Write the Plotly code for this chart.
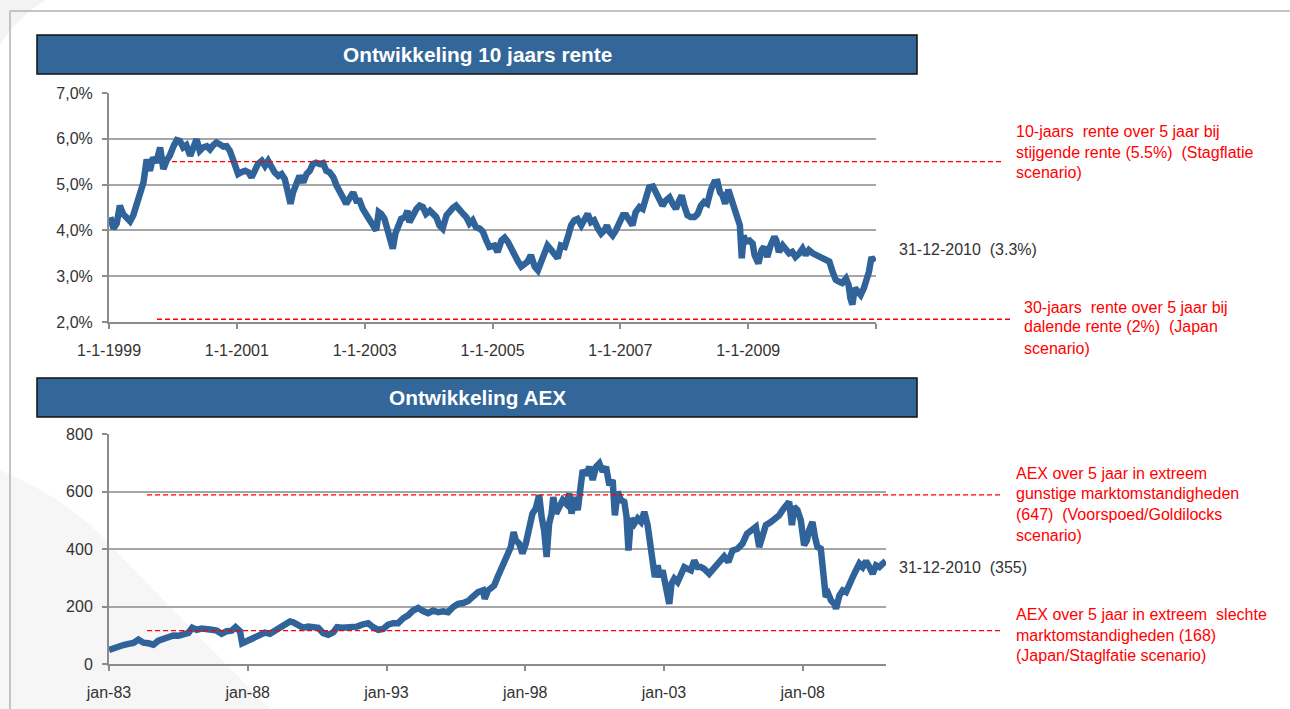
import plotly.graph_objects as go

W, H = 1290, 709

# ---------------- data ----------------
rente_years = [
    1999.02, 1999.07, 1999.12, 1999.17, 1999.22, 1999.28, 1999.33, 1999.38, 1999.43, 1999.48,
    1999.54, 1999.59, 1999.64, 1999.69, 1999.74, 1999.80, 1999.85, 1999.90, 1999.95, 2000.01,
    2000.06, 2000.11, 2000.16, 2000.21, 2000.27, 2000.32, 2000.37, 2000.42, 2000.47, 2000.53,
    2000.58, 2000.63, 2000.68, 2000.73, 2000.79, 2000.84, 2000.89, 2000.94, 2000.99, 2001.02,
    2001.07, 2001.13, 2001.18, 2001.23, 2001.28, 2001.33, 2001.39, 2001.44, 2001.49, 2001.54,
    2001.59, 2001.65, 2001.70, 2001.75, 2001.80, 2001.84, 2001.88, 2001.93, 2001.98, 2002.04,
    2002.09, 2002.14, 2002.19, 2002.24, 2002.30, 2002.35, 2002.40, 2002.45, 2002.51, 2002.56,
    2002.61, 2002.66, 2002.71, 2002.77, 2002.82, 2002.87, 2002.92, 2002.97, 2003.03, 2003.08,
    2003.13, 2003.18, 2003.22, 2003.26, 2003.31, 2003.36, 2003.40, 2003.44, 2003.48, 2003.52,
    2003.57, 2003.63, 2003.67, 2003.70, 2003.76, 2003.81, 2003.86, 2003.91, 2003.96, 2004.02,
    2004.07, 2004.12, 2004.17, 2004.22, 2004.28, 2004.33, 2004.38, 2004.43, 2004.48, 2004.54,
    2004.59, 2004.64, 2004.69, 2004.74, 2004.80, 2004.85, 2004.90, 2004.95,
    2005.03, 2005.08, 2005.14, 2005.19, 2005.24, 2005.29, 2005.34, 2005.40, 2005.45, 2005.50,
    2005.55, 2005.60, 2005.66, 2005.71, 2005.76, 2005.81, 2005.86, 2005.92, 2005.97, 2006.02,
    2006.07, 2006.13, 2006.18, 2006.23, 2006.28, 2006.33, 2006.39, 2006.44, 2006.49, 2006.54,
    2006.59, 2006.65, 2006.70, 2006.75, 2006.79, 2006.83, 2006.88, 2006.93, 2006.98, 2007.04,
    2007.09, 2007.14, 2007.19, 2007.24, 2007.30, 2007.35, 2007.40, 2007.45, 2007.51, 2007.56,
    2007.61, 2007.66, 2007.71, 2007.77, 2007.82, 2007.87, 2007.92, 2007.96, 2008.00, 2008.05,
    2008.10, 2008.16, 2008.21, 2008.26, 2008.31, 2008.36, 2008.42, 2008.47, 2008.52, 2008.56,
    2008.60, 2008.64, 2008.69, 2008.73, 2008.78, 2008.83, 2008.87, 2008.90, 2008.93, 2008.96,
    2009.02, 2009.07, 2009.10, 2009.16, 2009.21, 2009.25, 2009.30, 2009.35, 2009.41, 2009.44,
    2009.48, 2009.54, 2009.59, 2009.64, 2009.69, 2009.74, 2009.80, 2009.85, 2009.90, 2009.95,
    2010.01, 2010.06, 2010.11, 2010.16, 2010.21, 2010.27, 2010.32, 2010.37, 2010.42, 2010.47,
    2010.53, 2010.57, 2010.60, 2010.63, 2010.67, 2010.71, 2010.76, 2010.81, 2010.85, 2010.89,
    2010.93, 2010.97,
]
rente_values = [
    4.29, 4.04, 4.15, 4.54, 4.36, 4.29, 4.20, 4.33, 4.54, 4.83,
    5.05, 5.55, 5.30, 5.59, 5.48, 5.81, 5.34, 5.52, 5.63, 5.84,
    5.97, 5.95, 5.81, 5.86, 5.63, 5.81, 5.99, 5.74, 5.81, 5.84,
    5.77, 5.86, 5.92, 5.88, 5.83, 5.84, 5.74, 5.55, 5.37, 5.23,
    5.27, 5.30, 5.27, 5.16, 5.30, 5.45, 5.52, 5.41, 5.52, 5.37,
    5.27, 5.19, 5.23, 5.12, 4.83, 4.58, 4.83, 4.98, 5.19, 5.05,
    5.23, 5.30, 5.45, 5.48, 5.45, 5.47, 5.30, 5.27, 5.16, 4.98,
    4.87, 4.72, 4.58, 4.76, 4.83, 4.65, 4.65, 4.47, 4.36, 4.22,
    4.11, 4.00, 4.40, 4.36, 4.25, 3.97, 3.82, 3.60, 3.93, 4.11,
    4.25, 4.29, 4.43, 4.18, 4.36, 4.47, 4.54, 4.51, 4.36, 4.43,
    4.36, 4.29, 4.11, 4.04, 4.33, 4.43, 4.49, 4.54, 4.43, 4.36,
    4.29, 4.15, 4.22, 4.07, 4.04, 3.97, 3.79, 3.64,
    3.67, 3.53, 3.78, 3.84, 3.75, 3.60, 3.46, 3.32, 3.21, 3.28,
    3.32, 3.46, 3.21, 3.13, 3.32, 3.57, 3.67, 3.57, 3.50, 3.39,
    3.67, 3.64, 3.86, 4.11, 4.22, 4.25, 4.11, 4.22, 4.36, 4.18,
    4.22, 4.04, 3.93, 4.00, 4.11, 3.97, 3.89, 4.00, 4.18, 4.33,
    4.33, 4.22, 4.11, 4.40, 4.51, 4.47, 4.72, 4.94, 4.96, 4.83,
    4.65, 4.54, 4.65, 4.72, 4.58, 4.47, 4.65, 4.76, 4.54, 4.33,
    4.29, 4.29, 4.36, 4.54, 4.62, 4.58, 4.90, 5.05, 5.06, 4.83,
    4.76, 4.58, 4.89, 4.69, 4.43, 4.29, 4.11, 3.39, 3.89, 3.75,
    3.78, 3.71, 3.46, 3.28, 3.57, 3.64, 3.42, 3.67, 3.86, 3.78,
    3.53, 3.67, 3.57, 3.50, 3.53, 3.42, 3.50, 3.60, 3.46, 3.57,
    3.50, 3.46, 3.46, 3.39, 3.35, 3.32, 3.10, 2.92, 2.88, 2.85,
    2.95, 2.81, 2.52, 2.38, 2.74, 2.67, 2.59, 2.74, 2.88, 3.10,
    3.42, 3.31,
]

aex_years = [
    1983.00, 1983.16, 1983.34, 1983.52, 1983.70, 1983.88, 1984.06, 1984.24, 1984.42, 1984.60,
    1984.78, 1984.96, 1985.14, 1985.32, 1985.50, 1985.68, 1985.86, 1986.00, 1986.16, 1986.34,
    1986.52, 1986.70, 1986.88, 1987.06, 1987.24, 1987.42, 1987.56, 1987.72, 1987.80, 1987.90,
    1988.08, 1988.26, 1988.44, 1988.62, 1988.80, 1988.98, 1989.16, 1989.34, 1989.52, 1989.64,
    1989.82, 1990.00, 1990.18, 1990.36, 1990.54, 1990.72, 1990.90, 1991.08, 1991.22, 1991.40,
    1991.58, 1991.76, 1991.94, 1992.12, 1992.34, 1992.52, 1992.70, 1992.88, 1993.06, 1993.24,
    1993.42, 1993.60, 1993.78, 1993.96, 1994.14, 1994.32, 1994.50, 1994.68, 1994.86, 1995.04,
    1995.22, 1995.40, 1995.58, 1995.76, 1995.94, 1996.12, 1996.30, 1996.48, 1996.54, 1996.66,
    1996.88, 1997.00, 1997.12, 1997.24, 1997.36, 1997.48, 1997.58, 1997.66, 1997.78, 1997.90,
    1998.02, 1998.14, 1998.26, 1998.38, 1998.50, 1998.59, 1998.68, 1998.77, 1998.86, 1998.95,
    1999.01, 1999.11, 1999.23, 1999.35, 1999.47, 1999.59, 1999.67, 1999.77, 1999.89, 1999.97,
    2000.07, 2000.19, 2000.31, 2000.43, 2000.55, 2000.67, 2000.79, 2000.91, 2001.03, 2001.15,
    2001.23, 2001.33, 2001.45, 2001.57, 2001.65, 2001.72, 2001.81, 2001.93, 2002.05, 2002.17,
    2002.29, 2002.41, 2002.50, 2002.59, 2002.67, 2002.77, 2002.86, 2002.95, 2003.03, 2003.13,
    2003.19, 2003.27, 2003.37, 2003.49, 2003.61, 2003.73, 2003.85, 2003.97, 2004.09, 2004.21,
    2004.33, 2004.45, 2004.63, 2004.81, 2004.99, 2005.17, 2005.32, 2005.47, 2005.65, 2005.83,
    2005.99, 2006.13, 2006.31, 2006.43, 2006.55, 2006.67, 2006.85, 2007.03, 2007.15, 2007.27,
    2007.39, 2007.51, 2007.61, 2007.69, 2007.81, 2007.93, 2008.05, 2008.15, 2008.23, 2008.35,
    2008.44, 2008.53, 2008.65, 2008.71, 2008.77, 2008.83, 2008.92, 2009.02, 2009.14, 2009.20,
    2009.32, 2009.44, 2009.56, 2009.68, 2009.80, 2009.92, 2010.04, 2010.16, 2010.28, 2010.40,
    2010.52, 2010.64, 2010.76, 2010.88, 2010.99,
]
aex_values = [
    49, 56, 60, 66, 70, 73, 85, 74, 72, 67,
    81, 88, 95, 99, 98, 101, 108, 126, 119, 123,
    123, 119, 116, 105, 114, 116, 128, 114, 72, 76,
    87, 95, 102, 109, 105, 116, 128, 140, 148, 145,
    134, 126, 130, 130, 126, 107, 102, 110, 128, 126,
    126, 126, 130, 137, 142, 128, 119, 122, 137, 142,
    142, 159, 169, 186, 195, 184, 177, 186, 180, 183,
    180, 198, 209, 212, 219, 235, 250, 256, 227, 256,
    273, 302, 331, 355, 378, 407, 459, 430, 419, 384,
    419, 465, 523, 541, 587, 512, 465, 372, 488, 523,
    581, 523, 547, 570, 558, 593, 523, 581, 535, 622,
    674, 657, 686, 640, 686, 698, 669, 686, 622, 640,
    517, 599, 570, 564, 512, 395, 506, 488, 506, 494,
    529, 483, 419, 337, 302, 343, 302, 326, 279, 244,
    209, 279, 297, 285, 314, 337, 331, 326, 360, 337,
    337, 331, 314, 337, 355, 374, 355, 395, 401, 419,
    453, 465, 477, 407, 453, 483, 494, 506, 517, 535,
    552, 564, 483, 547, 535, 500, 413, 430, 465, 494,
    442, 407, 401, 349, 279, 233, 244, 221, 209, 192,
    238, 256, 250, 285, 302, 326, 349, 337, 358, 337,
    314, 343, 337, 349, 358,
]

rente_xticks = [1999, 2001, 2003, 2005, 2007, 2009, 2011]
rente_xticklabels = ["1-1-1999", "1-1-2001", "1-1-2003", "1-1-2005", "1-1-2007", "1-1-2009", ""]
rente_yticks = [2, 3, 4, 5, 6, 7]
rente_yticklabels = ["2,0%", "3,0%", "4,0%", "5,0%", "6,0%", "7,0%"]

aex_xticks = [1983, 1988, 1993, 1998, 2003, 2008]
aex_xticklabels = ["jan-83", "jan-88", "jan-93", "jan-98", "jan-03", "jan-08"]
aex_yticks = [0, 200, 400, 600, 800]
aex_yticklabels = ["0", "200", "400", "600", "800"]

rente_scenario_levels = [5.5, 2.06]
aex_scenario_levels = [588, 116]

rente_notes = [
    ["10-jaars\u00a0 rente over 5 jaar bij", "stijgende rente (5.5%)\u00a0 (Stagflatie", "scenario)"],
    ["30-jaars\u00a0 rente over 5 jaar bij", "dalende rente (2%)\u00a0 (Japan", "scenario)"],
]
aex_notes = [
    ["AEX over 5 jaar in extreem", "gunstige marktomstandigheden", "(647)\u00a0 (Voorspoed/Goldilocks", "scenario)"],
    ["AEX over 5 jaar in extreem\u00a0 slechte", "marktomstandigheden (168)", "(Japan/Staglfatie scenario)"],
]
rente_last = "31-12-2010\u00a0 (3.3%)"
aex_last = "31-12-2010\u00a0 (355)"
titles = ["Ontwikkeling 10 jaars rente", "Ontwikkeling AEX"]

# ---------------- styling ----------------
FONT = "Liberation Sans, Arial, sans-serif"
LINE_BLUE = "#30639A"
BAR_BLUE = "#336699"
GRID = "#A6A6A6"
AXIS = "#8C8C8C"
TXT = "#333333"
RED = "#FF0000"


def px(x):
    return x / W


def py(y):
    return 1 - y / H


fig = go.Figure()
fig.add_trace(go.Scatter(x=rente_years, y=rente_values, mode="lines",
                         line=dict(color=LINE_BLUE, width=6.5), xaxis="x", yaxis="y",
                         showlegend=False, hoverinfo="skip"))
fig.add_trace(go.Scatter(x=aex_years, y=aex_values, mode="lines",
                         line=dict(color=LINE_BLUE, width=6.5), xaxis="x2", yaxis="y2",
                         showlegend=False, hoverinfo="skip"))

common_x = dict(showline=True, linecolor=AXIS, linewidth=2, ticks="outside", ticklen=5,
                tickwidth=1.5, tickcolor=AXIS, showgrid=False, zeroline=False, automargin=False,
                tickfont=dict(family=FONT, size=16, color=TXT), ticklabelstandoff=8,
                fixedrange=True)
common_y = dict(showline=True, linecolor=AXIS, linewidth=2, ticks="outside", ticklen=5,
                tickwidth=1.5, tickcolor=AXIS, showgrid=True, gridcolor=GRID, gridwidth=1.5,
                zeroline=False, automargin=False, tickfont=dict(family=FONT, size=16, color=TXT),
                ticklabelstandoff=6, fixedrange=True)

fig.update_layout(
    width=W, height=H, margin=dict(l=0, r=0, t=0, b=0, pad=0, autoexpand=False),
    paper_bgcolor="white", plot_bgcolor="rgba(0,0,0,0)",
    xaxis=dict(domain=[px(109), px(876)], range=[1999, 2011], anchor="y",
               tickmode="array", tickvals=rente_xticks, ticktext=rente_xticklabels, **common_x),
    yaxis=dict(domain=[py(322), py(93)], range=[2, 7], anchor="x",
               tickmode="array", tickvals=rente_yticks, ticktext=rente_yticklabels, **common_y),
    xaxis2=dict(domain=[px(109), px(886)], range=[1983, 2011], anchor="y2",
                tickmode="array", tickvals=aex_xticks, ticktext=aex_xticklabels, **common_x),
    yaxis2=dict(domain=[py(664), py(434)], range=[0, 800], anchor="x2",
                tickmode="array", tickvals=aex_yticks, ticktext=aex_yticklabels, **common_y),
)

shapes = []
# faint watermark shapes
shapes.append(dict(type="path", xref="paper", yref="paper", layer="below",
                   path=f"M 0,{py(0)} L {px(45)},{py(0)} Q {px(15)},{py(20)} 0,{py(45)} Z",
                   fillcolor="#F3F3F3", line=dict(width=0)))
shapes.append(dict(type="path", xref="paper", yref="paper", layer="below",
                   path=(f"M 0,{py(470)} Q {px(70)},{py(500)} {px(110)},{py(545)} "
                         f"L {px(270)},{py(709)} L 0,{py(709)} Z"),
                   fillcolor="#F6F6F6", line=dict(width=0)))
# outer frame
shapes.append(dict(type="line", xref="paper", yref="paper", x0=px(10), x1=1, y0=py(11), y1=py(11),
                   line=dict(color="#C4C4C4", width=2)))
shapes.append(dict(type="line", xref="paper", yref="paper", x0=px(10), x1=px(10), y0=py(11), y1=0,
                   line=dict(color="#C4C4C4", width=2)))
# title bars
for (y0, y1) in [(35, 74), (378, 417)]:
    shapes.append(dict(type="rect", xref="paper", yref="paper", x0=px(37), x1=px(917),
                       y0=py(y1), y1=py(y0), fillcolor=BAR_BLUE,
                       line=dict(color="#111111", width=1.5)))
# scenario lines
rente_extents = [(172, 1003), (157, 1013)]
for lvl, (a, b) in zip(rente_scenario_levels, rente_extents):
    shapes.append(dict(type="line", xref="paper", yref="y", x0=px(a), x1=px(b), y0=lvl, y1=lvl,
                       line=dict(color=RED, width=1.3, dash="5px,3px")))
aex_extents = [(147, 1003), (147, 1003)]
for lvl, (a, b) in zip(aex_scenario_levels, aex_extents):
    shapes.append(dict(type="line", xref="paper", yref="y2", x0=px(a), x1=px(b), y0=lvl, y1=lvl,
                       line=dict(color=RED, width=1.3, dash="5px,3px")))

ann = []
for t, yc in zip(titles, [55, 397]):
    ann.append(dict(text=f"<b>{t}</b>", xref="paper", yref="paper", x=px(477), y=py(yc),
                    xanchor="center", yanchor="middle", showarrow=False,
                    font=dict(family=FONT, size=20.8, color="white")))


def add_lines(lines, x, ys, color):
    for s, yy in zip(lines, ys):
        ann.append(dict(text=s, xref="paper", yref="paper", x=px(x), y=py(yy),
                        xanchor="left", yanchor="middle", showarrow=False,
                        font=dict(family=FONT, size=16, color=color)))


add_lines(rente_notes[0], 1014, [132, 152, 172], RED)
add_lines(rente_notes[1], 1022, [307, 327, 348], RED)
add_lines([rente_last], 897, [249], TXT)
add_lines(aex_notes[0], 1014, [473, 493, 514, 535], RED)
add_lines(aex_notes[1], 1014, [614, 635, 655], RED)
add_lines([aex_last], 897, [567], TXT)

fig.update_layout(shapes=shapes, annotations=ann)
fig.write_html("out.html", config={"displayModeBar": False},
               post_script="document.body.style.margin='0';document.body.style.overflow='hidden';")
